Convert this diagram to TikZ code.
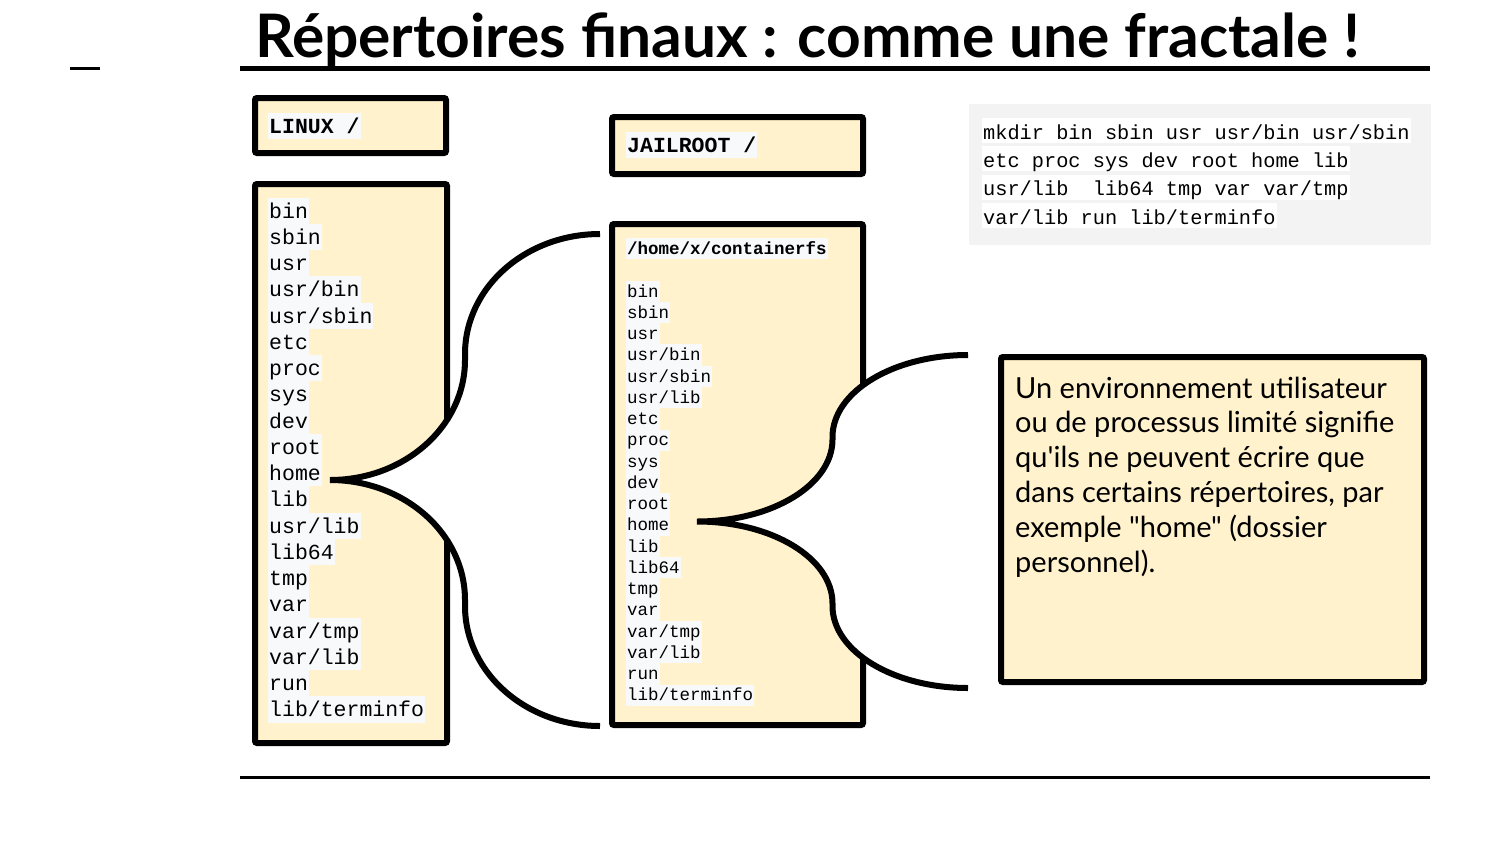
\documentclass[tikz,border=0pt]{standalone}
\usepackage{fontspec}
\usepackage{graphicx}
\newfontfamily\codefont{Liberation Mono}
\newfontfamily\bodyfont{Lato}
\newfontfamily\titlefont{Lato}
\definecolor{cream}{HTML}{FFF2CC}
\definecolor{hl}{HTML}{F8F9FA}
\definecolor{codebg}{HTML}{F3F3F3}
\newcommand{\bracelpath}{(600,234) .. controls (525.4,234) and (465,287.7) .. (465,354) -- (465,360) .. controls (465,426.3) and (404.6,480) .. (330,480) .. controls (404.6,480) and (465,533.7) .. (465,600) -- (465,606) .. controls (465,672.3) and (525.4,726) .. (600,726)}
\newcommand{\bracerpath}{(968,355) .. controls (893.4,355) and (832.5,391.7) .. (832.5,437) -- (832.5,439.5) .. controls (832.5,484.8) and (772.1,521.5) .. (697,521.5) .. controls (772.1,521.5) and (832.5,558.2) .. (832.5,603.5) -- (832.5,606) .. controls (832.5,651.3) and (893.4,688) .. (968,688)}
\begin{document}
\begin{tikzpicture}[x=1pt,y=-1pt,
  boxst/.style={draw=black, line width=6pt, fill=cream, rounded corners=2pt},
  bracest/.style={draw=black, line width=6pt},
  lstL/.style={anchor=base west, font=\codefont\fontsize{21.5}{26}\selectfont, fill=hl, inner xsep=1pt, inner ysep=0pt, text height=20.5pt, text depth=5.8pt},
  lstM/.style={anchor=base west, font=\codefont\fontsize{17.5}{21}\selectfont, fill=hl, inner xsep=1pt, inner ysep=0pt, text height=16.3pt, text depth=5pt},
  lstC/.style={anchor=base west, font=\codefont\fontsize{20.3}{28}\selectfont, fill=white, inner xsep=1pt, inner ysep=0pt, text height=21pt, text depth=4pt},
  bodyst/.style={anchor=base west, font=\bodyfont\fontsize{29}{34.8}\selectfont, inner sep=0pt},
  ruleline/.style={draw=black, line cap=butt}
]
\useasboundingbox (0,0) rectangle (1500,844);
\fill[white] (0,0) rectangle (1500,844);

% title and rules
\node[anchor=base west, inner sep=0pt] (title) at (255,57) {\resizebox{1105pt}{\height}{\titlefont\bfseries\fontsize{60}{60}\selectfont Répertoires finaux : comme une fractale !}};
\coordinate (ulA) at (240,68); \coordinate (ulB) at (1430,68);
\draw[ruleline, line width=5pt] (ulA) -- (ulB);
\coordinate (dA) at (70,68); \coordinate (dB) at (100,68);
\draw[ruleline, line width=3pt] (dA) -- (dB);
\coordinate (blA) at (240,777); \coordinate (blB) at (1430,777);
\draw[ruleline, line width=3pt] (blA) -- (blB);

% boxes
\draw[boxst] (255,98) rectangle (446,153);
\draw[boxst] (255,184) rectangle (447,743);
\draw[boxst] (612,117) rectangle (863,174);
\draw[boxst] (612,224) rectangle (863,725);
\fill[codebg] (969,104) rectangle (1431,245);
\draw[boxst] (1001,357) rectangle (1424,682);

% braces
\fill[white] \bracelpath -- cycle;
\draw[bracest] \bracelpath;
\fill[white] \bracerpath -- cycle;
\draw[bracest] \bracerpath;

% box titles
\node[lstL, font=\codefont\bfseries\fontsize{21.5}{26}\selectfont] (linux) at (268,133) {LINUX /};
\node[lstL, font=\codefont\bfseries\fontsize{21.5}{26}\selectfont] (jail) at (626,152) {JAILROOT /};

% left list
\foreach \t [count=\i from 0] in {bin,sbin,usr,usr/bin,usr/sbin,etc,proc,sys,dev,root,home,lib,usr/lib,lib64,tmp,var,var/tmp,var/lib,run,lib/terminfo}
  \node[lstL] (L\i) at (268,{218+\i*26.26}) {\t};

% middle list
\node[lstM, font=\codefont\bfseries\fontsize{17.5}{21}\selectfont] (mhead) at (626,254) {/home/x/containerfs};
\foreach \t [count=\i from 0] in {bin,sbin,usr,usr/bin,usr/sbin,usr/lib,etc,proc,sys,dev,root,home,lib,lib64,tmp,var,var/tmp,var/lib,run,lib/terminfo}
  \node[lstM] (M\i) at (626,{297+\i*21.26}) {\t};

% code box
\node[lstC] (c1) at (982,139) {mkdir bin sbin usr usr/bin usr/sbin};
\node[lstC] (c2) at (982,167.3) {etc proc sys dev root home lib};
\node[lstC] (c3) at (982,195.6) {usr/lib\ \ lib64 tmp var var/tmp};
\node[lstC] (c4) at (982,224) {var/lib run lib/terminfo};

% explanation text
\node[bodyst] (t1) at (1015,398) {Un environnement utilisateur};
\node[bodyst] (t2) at (1015,432.8) {ou de processus limité signifie};
\node[bodyst] (t3) at (1015,467.6) {qu'ils ne peuvent écrire que};
\node[bodyst] (t4) at (1015,502.4) {dans certains répertoires, par};
\node[bodyst] (t5) at (1015,537.2) {exemple "home" (dossier};
\node[bodyst] (t6) at (1015,572) {personnel).};
\end{tikzpicture}
\end{document}
